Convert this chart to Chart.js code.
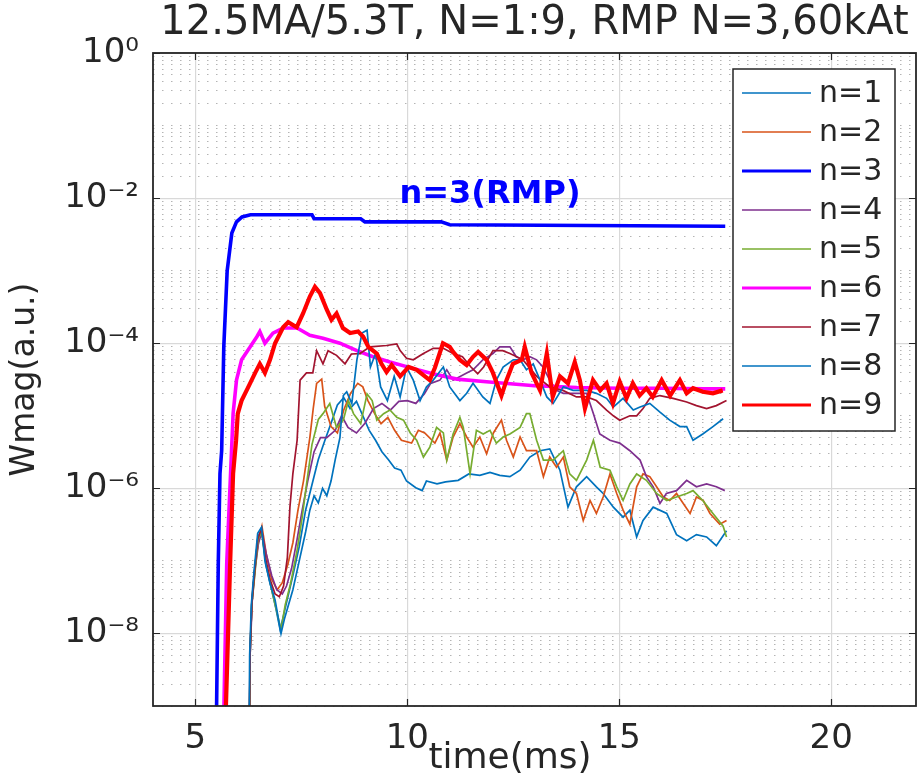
<!DOCTYPE html>
<html>
<head>
<meta charset="utf-8">
<title>Wmag vs time</title>
<script src="https://cdn.jsdelivr.net/npm/chart.js@4.4.1/dist/chart.umd.min.js"></script>
<style>
  html, body { margin: 0; padding: 0; background: #fff; }
  #wrap { width: 918px; height: 776px; }
</style>
</head>
<body>
<div id="wrap"><canvas id="wmagChart" width="918" height="776"></canvas></div>
<script>
// magnetic energy per toroidal mode number
const seriesLabels = ['n=1', 'n=2', 'n=3', 'n=4', 'n=5', 'n=6', 'n=7', 'n=8', 'n=9'];
const xTicks = [5, 10, 15, 20];
const yTickValues = [1, 1e-2, 1e-4, 1e-6, 1e-8];
const yTickLabels = ['10⁰', '10⁻²', '10⁻⁴', '10⁻⁶', '10⁻⁸'];

// time (ms) and Wmag (a.u.) for each mode
const t1 = [6.27, 6.29, 6.33, 6.39, 6.48, 6.57, 6.66, 6.78, 6.90, 7.00, 7.10, 7.30, 7.45, 7.60, 7.75, 7.90, 8.05, 8.20, 8.35, 8.50, 8.65, 8.80, 8.95, 9.10, 9.25, 9.40, 9.55, 9.70, 9.85, 9.98, 10.20, 10.35, 10.45, 10.70, 10.90, 11.20, 11.45, 11.71, 11.95, 12.18, 12.42, 12.66, 12.89, 13.13, 13.36, 13.60, 13.79, 13.99, 14.23, 14.46, 14.62, 14.86, 15.09, 15.25, 15.41, 15.56, 15.80, 16.12, 16.35, 16.59, 16.82, 17.06, 17.29, 17.53];
const w1 = [1e-10, 5.2e-9, 2.6e-8, 6.8e-8, 2.2e-7, 2.6e-7, 8.9e-8, 4.5e-8, 2.2e-8, 1.12e-8, 2.0e-8, 6.3e-8, 1.58e-7, 5.0e-7, 1.12e-6, 2.5e-6, 4.5e-6, 7.9e-6, 1.41e-5, 1.78e-5, 1.26e-5, 1.58e-5, 1.0e-5, 6.3e-6, 4.6e-6, 3.2e-6, 2.5e-6, 1.9e-6, 1.78e-6, 1.26e-6, 1.02e-6, 9.3e-7, 1.26e-6, 1.15e-6, 1.23e-6, 1.29e-6, 1.58e-6, 1.51e-6, 1.66e-6, 1.51e-6, 1.45e-6, 1.78e-6, 2.7e-6, 3.3e-6, 3.5e-6, 1.78e-6, 5.5e-7, 1.05e-6, 1.45e-6, 1.05e-6, 8.5e-7, 5.5e-7, 4.0e-7, 5.0e-7, 2.14e-7, 3.6e-7, 5.5e-7, 4.5e-7, 2.3e-7, 1.9e-7, 2.3e-7, 2.14e-7, 1.62e-7, 2.6e-7];

const t2 = [6.27, 6.29, 6.34, 6.42, 6.50, 6.57, 6.67, 6.80, 6.93, 7.05, 7.18, 7.30, 7.42, 7.55, 7.70, 7.78, 7.86, 7.98, 8.05, 8.20, 8.35, 8.50, 8.66, 8.83, 8.95, 9.07, 9.23, 9.38, 9.54, 9.70, 9.86, 10.10, 10.26, 10.41, 10.65, 10.77, 10.93, 11.08, 11.24, 11.40, 11.55, 11.71, 11.87, 12.03, 12.22, 12.34, 12.50, 12.66, 12.81, 13.05, 13.21, 13.36, 13.52, 13.68, 13.83, 13.99, 14.15, 14.31, 14.46, 14.62, 14.78, 14.94, 15.09, 15.25, 15.41, 15.56, 15.72, 15.88, 16.04, 16.19, 16.35, 16.51, 16.67, 16.82, 16.98, 17.14, 17.37, 17.53];
const w2 = [1e-10, 6.3e-9, 3.2e-8, 1.0e-7, 2.0e-7, 3.0e-7, 1.26e-7, 5.6e-8, 4.0e-8, 5.0e-8, 8.9e-8, 1.78e-7, 5.0e-7, 1.26e-6, 5.0e-6, 1.26e-5, 2.8e-5, 3.2e-5, 1.35e-5, 7.1e-6, 5.8e-6, 1.2e-5, 2.04e-5, 2.8e-5, 2.5e-5, 1.62e-5, 1.07e-5, 7.8e-6, 9.5e-6, 6.3e-6, 4.6e-6, 4.2e-6, 6.3e-6, 5.8e-6, 4.2e-6, 5.8e-6, 2.45e-6, 5.1e-6, 7.8e-6, 5.1e-6, 3.7e-6, 5.1e-6, 3.0e-6, 5.8e-6, 8.7e-6, 4.6e-6, 2.7e-6, 5.1e-6, 3.3e-6, 3.3e-6, 1.45e-6, 2.7e-6, 1.95e-6, 2.7e-6, 1.05e-6, 8.5e-7, 3.6e-7, 6.8e-7, 4.5e-7, 7.6e-7, 1.58e-6, 8.5e-7, 5.0e-7, 3.2e-7, 1.05e-6, 1.58e-6, 1.45e-6, 1.05e-6, 7.6e-7, 6.8e-7, 8.5e-7, 6.2e-7, 4.5e-7, 7.6e-7, 6.8e-7, 4.5e-7, 3.2e-7, 3.6e-7];

const t3 = [5.48, 5.54, 5.58, 5.62, 5.67, 5.75, 5.86, 5.97, 6.10, 6.30, 7.75, 7.80, 8.90, 9.00, 10.80, 11.00, 17.50];
const w3 = [1e-10, 9.3e-8, 1.6e-6, 3.3e-6, 8.9e-5, 1.0e-3, 3.3e-3, 4.7e-3, 5.5e-3, 5.9e-3, 5.9e-3, 5.2e-3, 5.2e-3, 4.7e-3, 4.7e-3, 4.3e-3, 4.1e-3];

const t4 = [6.27, 6.29, 6.34, 6.41, 6.49, 6.57, 6.67, 6.80, 6.92, 7.05, 7.15, 7.27, 7.40, 7.52, 7.65, 7.80, 7.95, 8.10, 8.30, 8.45, 8.60, 8.80, 9.00, 9.20, 9.40, 9.60, 9.80, 10.00, 10.20, 10.40, 10.55, 10.77, 10.93, 11.08, 11.40, 11.55, 11.78, 12.02, 12.18, 12.42, 12.57, 12.73, 12.89, 13.05, 13.20, 13.36, 13.52, 13.68, 13.91, 14.23, 14.39, 14.54, 14.78, 15.01, 15.25, 15.49, 15.64, 15.80, 15.96, 16.11, 16.35, 16.59, 16.82, 17.06, 17.29, 17.49];
const w4 = [1e-10, 5.0e-9, 2.8e-8, 7.9e-8, 1.78e-7, 2.5e-7, 1.26e-7, 6.3e-8, 4.0e-8, 3.5e-8, 4.5e-8, 7.9e-8, 2.0e-7, 5.0e-7, 1.26e-6, 3.2e-6, 5.0e-6, 5.0e-6, 6.3e-6, 1.0e-5, 6.9e-6, 5.8e-6, 7.9e-6, 1.26e-5, 1.48e-5, 1.2e-5, 1.58e-5, 1.62e-5, 1.48e-5, 2.0e-5, 2.8e-5, 3.1e-5, 4.3e-5, 3.1e-5, 3.9e-5, 4.3e-5, 5.9e-5, 7.2e-5, 8.9e-5, 8.9e-5, 6.5e-5, 5.9e-5, 6.5e-5, 5.9e-5, 4.7e-5, 3.1e-5, 2.24e-5, 2.04e-5, 2.04e-5, 2.04e-5, 1.07e-5, 5.6e-6, 4.6e-6, 4.2e-6, 3.3e-6, 2.45e-6, 1.45e-6, 1.05e-6, 6.2e-7, 8.5e-7, 9.3e-7, 1.29e-6, 1.05e-6, 1.15e-6, 1.05e-6, 9.3e-7];

const t5 = [6.27, 6.29, 6.33, 6.40, 6.48, 6.56, 6.66, 6.80, 6.92, 7.02, 7.12, 7.25, 7.40, 7.52, 7.62, 7.75, 7.90, 8.01, 8.17, 8.33, 8.49, 8.61, 8.73, 8.90, 9.05, 9.17, 9.28, 9.44, 9.59, 9.75, 9.91, 10.07, 10.22, 10.38, 10.53, 10.69, 10.85, 10.93, 11.08, 11.24, 11.32, 11.48, 11.63, 11.79, 11.95, 12.10, 12.26, 12.42, 12.66, 12.81, 12.89, 13.05, 13.21, 13.44, 13.68, 13.83, 13.99, 14.23, 14.39, 14.55, 14.78, 14.94, 15.09, 15.25, 15.41, 15.64, 15.88, 16.12, 16.35, 16.59, 16.74, 16.97, 17.21, 17.45, 17.53];
const w5 = [1e-10, 5.0e-9, 2.5e-8, 6.3e-8, 2.0e-7, 2.5e-7, 1.0e-7, 4.0e-8, 2.0e-8, 1.12e-8, 2.5e-8, 5.0e-8, 1.41e-7, 4.0e-7, 1.12e-6, 4.0e-6, 8.9e-6, 1.07e-5, 1.48e-5, 6.9e-6, 8.7e-6, 1.62e-5, 1.07e-5, 7.8e-6, 2.0e-5, 1.62e-5, 8.7e-6, 1.07e-5, 1.2e-5, 9.5e-6, 8.7e-6, 5.8e-6, 4.6e-6, 2.7e-6, 3.7e-6, 6.9e-6, 5.8e-6, 2.45e-6, 5.6e-6, 9.5e-6, 6.9e-6, 1.58e-6, 6.3e-6, 5.6e-6, 6.3e-6, 4.2e-6, 5.1e-6, 5.6e-6, 6.9e-6, 1.07e-5, 1.07e-5, 4.6e-6, 2.45e-6, 2.45e-6, 3.3e-6, 1.58e-6, 1.29e-6, 2.45e-6, 4.6e-6, 1.95e-6, 1.78e-6, 1.05e-6, 6.8e-7, 1.15e-6, 1.58e-6, 1.29e-6, 8.5e-7, 6.8e-7, 7.6e-7, 8.5e-7, 9.3e-7, 6.8e-7, 4.5e-7, 3.0e-7, 2.14e-7];

const t6 = [5.64, 5.74, 5.83, 5.89, 5.97, 6.09, 6.29, 6.45, 6.52, 6.64, 6.83, 7.07, 7.40, 7.70, 8.01, 8.41, 8.81, 9.19, 9.59, 10.13, 10.60, 11.17, 12.00, 13.00, 14.00, 15.00, 16.00, 17.00, 17.50];
const w6 = [1e-10, 9.3e-8, 1.6e-6, 1.07e-5, 3.1e-5, 5.9e-5, 8.9e-5, 1.23e-4, 1.45e-4, 1.0e-4, 1.38e-4, 1.62e-4, 1.62e-4, 1.29e-4, 1.17e-4, 1.0e-4, 7.9e-5, 6.5e-5, 5.5e-5, 4.5e-5, 3.8e-5, 3.2e-5, 2.9e-5, 2.6e-5, 2.45e-5, 2.4e-5, 2.4e-5, 2.35e-5, 2.35e-5];

const t7 = [6.26, 6.29, 6.33, 6.39, 6.47, 6.56, 6.65, 6.76, 6.88, 6.98, 7.08, 7.17, 7.23, 7.30, 7.40, 7.47, 7.62, 7.77, 7.86, 8.01, 8.13, 8.33, 8.53, 8.68, 8.88, 9.12, 9.51, 9.75, 9.83, 9.98, 10.14, 10.38, 10.61, 10.85, 11.08, 11.30, 11.50, 11.66, 11.80, 12.02, 12.25, 12.42, 12.73, 13.05, 13.36, 13.67, 13.99, 14.23, 14.46, 14.70, 14.86, 15.01, 15.25, 15.41, 15.56, 15.72, 15.96, 16.27, 16.59, 16.82, 17.06, 17.29, 17.53];
const w7 = [1e-10, 5.0e-9, 2.5e-8, 6.3e-8, 2.0e-7, 2.8e-7, 1.12e-7, 5.6e-8, 3.5e-8, 3.2e-8, 4.5e-8, 1.12e-7, 5.5e-7, 1.6e-6, 4.6e-6, 3.1e-5, 3.9e-5, 3.9e-5, 7.9e-5, 5.2e-5, 7.9e-5, 6.8e-5, 5.2e-5, 7.1e-5, 7.2e-5, 8.9e-5, 9.3e-5, 9.8e-5, 7.9e-5, 6.2e-5, 5.9e-5, 7.2e-5, 8.5e-5, 8.5e-5, 7.2e-5, 6.5e-5, 4.7e-5, 3.8e-5, 4.7e-5, 7.9e-5, 7.9e-5, 7.2e-5, 5.9e-5, 3.5e-5, 2.5e-5, 2.24e-5, 1.82e-5, 1.82e-5, 1.62e-5, 1.2e-5, 1.0e-5, 8.7e-6, 1.0e-5, 1.0e-5, 1.26e-5, 1.74e-5, 1.9e-5, 1.74e-5, 1.55e-5, 1.38e-5, 1.26e-5, 1.38e-5, 1.62e-5];

const t8 = [6.26, 6.28, 6.32, 6.38, 6.47, 6.56, 6.64, 6.76, 6.88, 7.02, 7.10, 7.30, 7.45, 7.60, 7.70, 7.80, 7.90, 8.00, 8.10, 8.20, 8.30, 8.41, 8.49, 8.57, 8.69, 8.81, 8.93, 9.05, 9.13, 9.25, 9.37, 9.53, 9.69, 9.83, 9.98, 10.14, 10.30, 10.45, 10.61, 10.85, 11.00, 11.24, 11.40, 11.55, 11.78, 11.95, 12.10, 12.26, 12.50, 12.66, 12.81, 12.97, 13.13, 13.29, 13.44, 13.68, 13.91, 14.23, 14.46, 14.70, 14.86, 15.09, 15.33, 15.49, 15.72, 15.96, 16.19, 16.43, 16.59, 16.74, 16.97, 17.21, 17.45];
const w8 = [1e-10, 5.0e-9, 2.5e-8, 6.8e-8, 2.4e-7, 2.9e-7, 1.02e-7, 4.9e-8, 2.9e-8, 1.0e-8, 1.58e-8, 4.0e-8, 1.0e-7, 2.5e-7, 5.0e-7, 7.9e-7, 6.3e-7, 1.0e-6, 7.9e-7, 1.26e-6, 2.5e-6, 5.0e-6, 1.9e-5, 2.14e-5, 1.48e-5, 5.9e-5, 1.38e-4, 1.51e-4, 4.7e-5, 7.2e-5, 2.5e-5, 1.62e-5, 3.5e-5, 1.82e-5, 4.7e-5, 3.1e-5, 1.62e-5, 2.5e-5, 3.1e-5, 4.7e-5, 2.5e-5, 1.62e-5, 2.04e-5, 2.8e-5, 1.82e-5, 1.48e-5, 3.1e-5, 4.7e-5, 5.9e-5, 5.9e-5, 4.3e-5, 5.2e-5, 3.1e-5, 1.82e-5, 1.48e-5, 2.5e-5, 2.24e-5, 2.24e-5, 2.04e-5, 1.74e-5, 1.32e-5, 1.74e-5, 1.2e-5, 1.32e-5, 1.48e-5, 1.12e-5, 8.7e-6, 7.1e-6, 7.1e-6, 4.6e-6, 5.6e-6, 7.1e-6, 9.1e-6];

const t9 = [5.67, 5.82, 5.89, 5.96, 6.00, 6.09, 6.25, 6.41, 6.52, 6.64, 6.76, 6.88, 7.07, 7.19, 7.39, 7.54, 7.70, 7.82, 7.94, 8.10, 8.21, 8.33, 8.48, 8.65, 8.84, 8.96, 9.08, 9.28, 9.39, 9.51, 9.63, 9.83, 10.03, 10.22, 10.53, 10.65, 10.84, 11.00, 11.08, 11.24, 11.40, 11.55, 11.67, 11.87, 12.02, 12.22, 12.34, 12.49, 12.70, 12.77, 12.93, 13.13, 13.29, 13.43, 13.60, 13.79, 13.95, 14.07, 14.19, 14.38, 14.55, 14.70, 14.85, 15.01, 15.17, 15.32, 15.48, 15.64, 15.79, 16.00, 16.20, 16.43, 16.59, 16.74, 16.97, 17.21, 17.44];
const w9 = [1e-10, 9.3e-8, 1.6e-6, 4.6e-6, 1.07e-5, 1.62e-5, 2.5e-5, 3.9e-5, 5.2e-5, 3.9e-5, 5.9e-5, 1.0e-4, 1.66e-4, 1.95e-4, 1.66e-4, 2.57e-4, 4.4e-4, 6.0e-4, 4.9e-4, 2.9e-4, 2.1e-4, 2.57e-4, 1.62e-4, 1.38e-4, 1.45e-4, 1.23e-4, 8.9e-5, 7.2e-5, 5.2e-5, 4.0e-5, 5.0e-5, 3.5e-5, 4.7e-5, 4.3e-5, 3.1e-5, 4.6e-5, 1.0e-4, 8.9e-5, 7.6e-5, 5.9e-5, 5.0e-5, 6.5e-5, 7.6e-5, 5.9e-5, 3.9e-5, 1.9e-5, 3.1e-5, 5.2e-5, 5.9e-5, 8.9e-5, 3.9e-5, 2.24e-5, 7.2e-5, 1.82e-5, 3.5e-5, 2.8e-5, 5.5e-5, 3.1e-5, 1.26e-5, 3.1e-5, 2.24e-5, 2.8e-5, 1.48e-5, 2.95e-5, 1.74e-5, 2.8e-5, 1.9e-5, 2.4e-5, 1.82e-5, 3.1e-5, 1.9e-5, 3.1e-5, 2.04e-5, 2.4e-5, 2.14e-5, 2.04e-5, 2.24e-5];

const times = [t1, t2, t3, t4, t5, t6, t7, t8, t9];
const values = [w1, w2, w3, w4, w5, w6, w7, w8, w9];

// MATLAB-like line colours; n=3, 6 and 9 are drawn thick
const seriesColors = ['#0072BD', '#D95319', '#0000FF', '#7E2F8E', '#77AC30', '#FF00FF', '#A2142F', '#0072BD', '#FF0000'];
const seriesWidths = [1.7, 1.7, 3.6, 1.7, 1.7, 3.6, 1.7, 1.7, 4.2];

const axisColor = '#262626';
const fontFamily = "'DejaVu Sans', 'Noto Sans', sans-serif";

function isLabelled(v) {
  return yTickValues.some(m => Math.abs(Math.log10(v) - Math.log10(m)) < 1e-6);
}

const datasets = seriesLabels.map((label, i) => ({
  label,
  data: times[i].map((t, j) => ({ x: t, y: values[i][j] })),
  borderColor: seriesColors[i],
  backgroundColor: seriesColors[i],
  borderWidth: seriesWidths[i],
  pointRadius: 0,
  tension: 0,
  fill: false,
  clip: 0,
  order: seriesLabels.length - i   // later modes drawn on top
}));

// axes box with inward ticks, like MATLAB's "box on"
const axesBox = {
  id: 'axesBox',
  afterDatasetsDraw(chart) {
    const { ctx, chartArea: a, scales: { x, y } } = chart;
    ctx.save();
    ctx.strokeStyle = axisColor;
    ctx.lineWidth = 1.2;
    ctx.beginPath();
    xTicks.forEach(v => {
      const px = Math.round(x.getPixelForValue(v)) + 0.5;
      ctx.moveTo(px, a.bottom); ctx.lineTo(px, a.bottom - 7);
      ctx.moveTo(px, a.top); ctx.lineTo(px, a.top + 7);
    });
    yTickValues.forEach(v => {
      const py = Math.round(y.getPixelForValue(v)) + 0.5;
      ctx.moveTo(a.left, py); ctx.lineTo(a.left + 7, py);
      ctx.moveTo(a.right, py); ctx.lineTo(a.right - 7, py);
    });
    ctx.stroke();
    ctx.lineWidth = 1.8;
    ctx.strokeRect(a.left, a.top, a.right - a.left, a.bottom - a.top);
    ctx.restore();
  }
};

// "n=3(RMP)" note placed in data coordinates
const rmpNote = {
  id: 'rmpNote',
  afterDatasetsDraw(chart, args, opts) {
    const { ctx, scales: { x, y } } = chart;
    ctx.save();
    ctx.font = 'bold 32px ' + fontFamily;
    ctx.fillStyle = '#0000FF';
    ctx.textAlign = 'center';
    ctx.textBaseline = 'alphabetic';
    ctx.fillText(opts.text, x.getPixelForValue(opts.x), y.getPixelForValue(opts.y));
    ctx.restore();
  }
};

// boxed legend in the upper right of the axes
const boxLegend = {
  id: 'boxLegend',
  afterDatasetsDraw(chart, args, opts) {
    const { ctx, chartArea: a } = chart;
    const ds = chart.data.datasets;
    const left = a.right - opts.right - opts.width;
    const top = a.top + opts.top;
    const height = opts.pad * 2 + opts.row * (ds.length - 1) + 2;
    ctx.save();
    ctx.fillStyle = '#ffffff';
    ctx.fillRect(left, top, opts.width, height);
    ctx.strokeStyle = axisColor;
    ctx.lineWidth = 1.5;
    ctx.strokeRect(left, top, opts.width, height);
    ctx.font = '30px ' + fontFamily;
    ctx.textBaseline = 'middle';
    ctx.textAlign = 'left';
    ds.forEach((d, i) => {
      const cy = top + opts.pad + i * opts.row;
      ctx.strokeStyle = d.borderColor;
      ctx.lineWidth = d.borderWidth > 2 ? 3.2 : 1.3;
      ctx.beginPath();
      ctx.moveTo(left + 9, cy);
      ctx.lineTo(left + 78, cy);
      ctx.stroke();
      ctx.fillStyle = axisColor;
      ctx.fillText(d.label, left + 86, cy + 1);
    });
    ctx.restore();
  }
};

// x-axis label, sitting slightly left of centre and tucked up against the tick labels
const xLabel = {
  id: 'xLabel',
  afterDraw(chart, args, opts) {
    const { ctx } = chart;
    ctx.save();
    ctx.font = '36px ' + fontFamily;
    ctx.fillStyle = axisColor;
    ctx.textAlign = 'center';
    ctx.textBaseline = 'alphabetic';
    ctx.fillText(opts.text, opts.cx, opts.baseline);
    ctx.restore();
  }
};

new Chart(document.getElementById('wmagChart'), {
  type: 'line',
  data: { datasets },
  plugins: [axesBox, rmpNote, boxLegend, xLabel],
  options: {
    responsive: false,
    animation: false,
    devicePixelRatio: 1,
    layout: { padding: { left: 0, right: 2, top: 0, bottom: 0 } },
    plugins: {
      legend: { display: false },
      tooltip: { enabled: false },
      title: {
        display: true,
        text: '12.5MA/5.3T, N=1:9, RMP N=3,60kAt',
        fullSize: false,
        color: axisColor,
        font: { family: fontFamily, size: 40, weight: 'normal' },
        padding: { top: 0, bottom: 5 }
      },
      rmpNote: { text: 'n=3(RMP)', x: 11.95, y: 8.5e-3 },
      boxLegend: { right: 21, top: 16, width: 162, row: 39, pad: 24 },
      xLabel: { text: 'time(ms)', cx: 510, baseline: 768 }
    },
    scales: {
      x: {
        type: 'linear',
        min: 4,
        max: 22,
        afterBuildTicks(scale) { scale.ticks = xTicks.map(v => ({ value: v })); },
        afterFit(scale) { scale.height = 70; },
        ticks: {
          autoSkip: false,
          maxRotation: 0,
          padding: 13,
          color: axisColor,
          font: { family: fontFamily, size: 34 }
        },
        grid: { color: '#d9d9d9', lineWidth: 1.2, drawTicks: false },
        border: { display: false }
      },
      y: {
        type: 'logarithmic',
        min: 1e-9,
        max: 1,
        afterBuildTicks(scale) {
          // decade ticks plus the 2..9 minor ticks in each decade
          const ticks = [];
          for (let e = -9; e <= 0; e++) {
            for (let m = 1; m <= 9; m++) {
              const v = m * Math.pow(10, e);
              if (v <= 1.0000001) ticks.push({ value: v, major: m === 1 });
            }
          }
          scale.ticks = ticks;
        },
        afterFit(scale) { scale.width = 153; },
        ticks: {
          autoSkip: false,
          padding: 14,
          color: axisColor,
          font: { family: fontFamily, size: 34 },
          callback(value) {
            const k = yTickValues.findIndex(m => Math.abs(Math.log10(value) - Math.log10(m)) < 1e-6);
            return k >= 0 ? yTickLabels[k] : '';
          }
        },
        grid: {
          drawTicks: false,
          lineWidth: ctx => (ctx.tick && isLabelled(ctx.tick.value)) ? 1.2 : 1,
          color: ctx => (ctx.tick && isLabelled(ctx.tick.value)) ? '#d9d9d9' : '#b4b4b4'
        },
        border: {
          display: false,
          dash: ctx => (ctx.tick && !isLabelled(ctx.tick.value)) ? [1.5, 7.5] : []
        },
        title: {
          display: true,
          text: 'Wmag(a.u.)',
          color: axisColor,
          font: { family: fontFamily, size: 33 },
          padding: { top: 6, bottom: 0 }
        }
      }
    }
  }
});
</script>
</body>
</html>
